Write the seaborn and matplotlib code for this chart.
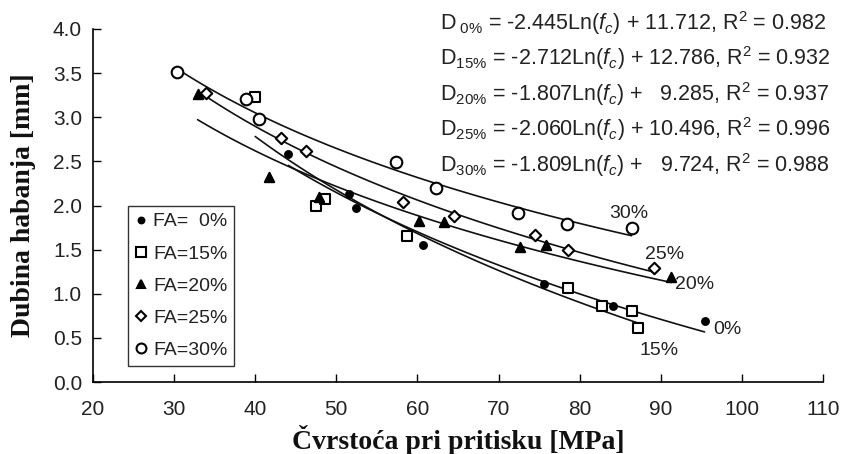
import numpy as np
import pandas as pd
import matplotlib
matplotlib.use("Agg")
import matplotlib.pyplot as plt
import seaborn as sns
from matplotlib.lines import Line2D

# ---------------- data ----------------
fa0_x = [44.1, 51.5, 52.4, 60.7, 75.6, 84.1, 95.4]
fa0_y = [2.585, 2.13, 1.97, 1.55, 1.11, 0.865, 0.69]

fa15_x = [40.0, 47.5, 48.6, 58.7, 78.6, 82.8, 86.4, 87.2]
fa15_y = [3.23, 1.99, 2.07, 1.66, 1.06, 0.865, 0.81, 0.61]

fa20_x = [32.9, 41.7, 47.9, 60.2, 63.3, 72.65, 75.9, 91.3]
fa20_y = [3.26, 2.32, 2.10, 1.83, 1.81, 1.53, 1.55, 1.19]

fa25_x = [33.9, 43.2, 46.3, 58.2, 64.5, 74.5, 78.6, 89.2]
fa25_y = [3.27, 2.77, 2.62, 2.04, 1.885, 1.67, 1.50, 1.29]

fa30_x = [30.4, 38.9, 40.5, 57.3, 62.3, 72.4, 78.4, 86.4]
fa30_y = [3.51, 3.21, 2.98, 2.49, 2.20, 1.92, 1.79, 1.74]

legend_labels = ["FA=  0%", "FA=15%", "FA=20%", "FA=25%", "FA=30%"]
curve_labels = ["0%", "15%", "20%", "25%", "30%"]
curve_label_pos = [(98.2, 0.60), (89.8, 0.36), (94.2, 1.10), (90.5, 1.45), (86.0, 1.91)]

# printed trendline coefficients: D = a*Ln(fc) + b
coef_a = [-2.445, -2.712, -1.807, -2.060, -1.809]
coef_b = [11.712, 12.786, 9.285, 10.496, 9.724]
r2 = [0.982, 0.932, 0.937, 0.996, 0.988]
eq_subs = [r"\ 0\%", r"15\%", r"20\%", r"25\%", r"30\%"]

xticks = [20, 30, 40, 50, 60, 70, 80, 90, 100, 110]
yticks = [0.0, 0.5, 1.0, 1.5, 2.0, 2.5, 3.0, 3.5, 4.0]

# ---------------- style ----------------
sns.set_theme(style="ticks")
plt.rcParams["font.family"] = ["Liberation Sans", "DejaVu Sans"]
plt.rcParams["mathtext.fontset"] = "custom"
plt.rcParams["mathtext.rm"] = "Liberation Sans"
plt.rcParams["mathtext.it"] = "Liberation Sans:italic"
plt.rcParams["mathtext.bf"] = "Liberation Sans:bold"

TXT = "#222222"

fig = plt.figure(figsize=(8.45, 4.54), dpi=100)
ax = fig.add_axes([93 / 845, (454 - 382) / 454, (823 - 93) / 845, (382 - 29) / 454])

series = [
    (fa0_x, fa0_y, "o", 24, "black"),
    (fa15_x, fa15_y, "s", 60, "white"),
    (fa20_x, fa20_y, "^", 45, "black"),
    (fa25_x, fa25_y, "D", 34, "white"),
    (fa30_x, fa30_y, "o", 70, "white"),
]

# trendlines
for (xs, ys, m, s, fc), a, b in zip(series, coef_a, coef_b):
    xx = np.linspace(min(xs), max(xs), 120)
    df = pd.DataFrame({"x": xx, "y": a * np.log(xx) + b})
    sns.lineplot(data=df, x="x", y="y", ax=ax, color="#111111", lw=1.2,
                 estimator=None, zorder=2)

# points
handles = []
for (xs, ys, m, s, fc), lab in zip(series, legend_labels):
    df = pd.DataFrame({"x": xs, "y": ys})
    sns.scatterplot(data=df, x="x", y="y", ax=ax, marker=m, s=s,
                    facecolor=fc, edgecolor="black", linewidth=1.5, zorder=3)
    handles.append(Line2D([], [], ls="none", marker=m,
                          markersize=np.sqrt(s) * 0.85,
                          markerfacecolor=fc, markeredgecolor="black",
                          markeredgewidth=1.5, label=lab))

# curve labels
for lab, (px, py) in zip(curve_labels, curve_label_pos):
    ax.text(px, py, lab, ha="center", va="center", fontsize=14, color=TXT)

# equations
for i, (sub, a, b, r) in enumerate(zip(eq_subs, coef_a, coef_b, r2)):
    bs = f"{b:.3f}"
    if len(bs) < 6:
        bs = "  " + bs
    s = f"D$_{{{sub}}}$ = {a:.3f}Ln($f_c$) + {bs}, R$^2$ = {r:.3f}"
    fig.text(440 / 845, 1 - (23 + i * 35.5) / 454, s, ha="left", va="center",
             fontsize=15.5, color=TXT)

ax.set_xlim(20, 110)
ax.set_ylim(0, 4)
ax.set_xticks(xticks)
ax.set_yticks(yticks)
ax.set_xticklabels([str(t) for t in xticks])
ax.set_yticklabels([f"{t:.1f}" for t in yticks])
ax.tick_params(axis="both", direction="in", length=6, width=1, colors="black",
               labelcolor=TXT, labelsize=15)
ax.tick_params(axis="x", pad=13)
ax.tick_params(axis="y", pad=8)
for sp in ["top", "right"]:
    ax.spines[sp].set_visible(False)
for sp in ["left", "bottom"]:
    ax.spines[sp].set_linewidth(1.2)
    ax.spines[sp].set_color("black")

ax.set_xlabel("Čvrstoća pri pritisku [MPa]", fontsize=20, fontweight="bold",
              family="Liberation Serif", color="#111111", labelpad=4)
ax.set_ylabel("Dubina habanja [mm]", fontsize=20, fontweight="bold",
              family="Liberation Serif", color="#111111", labelpad=12)

leg = ax.legend(handles=handles, loc="upper left",
                bbox_to_anchor=(128 / 845, (454 - 206) / 454),
                bbox_transform=fig.transFigure, frameon=True, fancybox=False,
                edgecolor="black", fontsize=14, handlelength=0.6,
                handletextpad=0.35, borderpad=0.35, labelspacing=0.75,
                borderaxespad=0)
leg.get_frame().set_linewidth(1.0)
for t in leg.get_texts():
    t.set_color(TXT)

fig.savefig("out.png", dpi=100)
